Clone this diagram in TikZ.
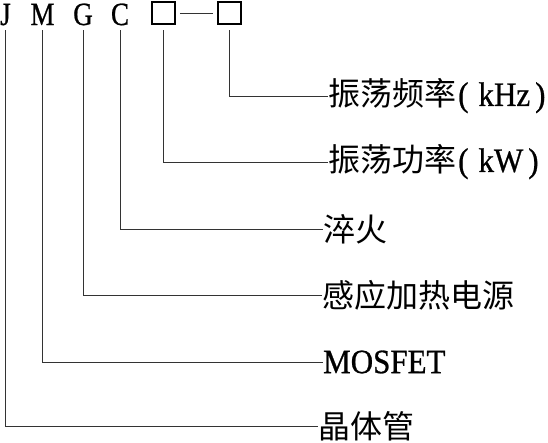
\documentclass[tikz,border=0pt]{standalone}
\usepackage{fontspec}
\setmainfont{Liberation Serif}[FakeBold=0.8]
\newfontfamily\cjk{Noto Sans CJK SC}
\newcommand\zh[1]{{\cjk\fontsize{32}{32}\selectfont #1}}
\newcommand\tall[1]{\scalebox{1}[1.1]{#1}}
\begin{document}
\begin{tikzpicture}[x=1pt,y=-1pt,
  letter/.style={anchor=base,inner sep=0pt,font=\fontsize{27}{27}\selectfont},
  codebox/.style={draw,line width=1.6pt,minimum width=23pt,minimum height=22pt,inner sep=0pt},
  lbl/.style={anchor=west,inner sep=0pt,font=\fontsize{31}{31}\selectfont},
  conn/.style={line width=1pt,draw=black!80}]
\useasboundingbox (0,0) rectangle (548,442);
% code letters
\node[letter] (J) at (5.5,25) {\scalebox{1}[1.2]{J}};
\node[letter] (M) at (42.5,25) {\scalebox{1}[1.2]{M}};
\node[letter] (G) at (83,25) {\scalebox{1}[1.2]{G}};
\node[letter] (C) at (120,25) {\scalebox{1}[1.2]{C}};
\node[codebox] (b1) at (163.5,13) {};
\node[codebox] (b2) at (229.5,13) {};
\draw[conn,shorten <=4pt,shorten >=4pt] (b1.east) -- (b2.west);
% labels
\node[lbl] (l6) at (328,96) {\zh{振荡频率}\hspace{2pt}\tall{(}\hspace{10pt}\tall{kHz}\hspace{5pt}\tall{)}};
\node[lbl] (l5) at (328,162) {\zh{振荡功率}\hspace{2pt}\tall{(}\hspace{10pt}\tall{kW}\hspace{5pt}\tall{)}};
\node[lbl] (l4) at (323,229) {\zh{淬火}};
\node[lbl] (l3) at (322,295) {\zh{感应加热电源}};
\node[lbl] (l2) at (323,362) {\tall{MOSFET}};
\node[lbl] (l1) at (318,426) {\zh{晶体管}};
% connectors
\coordinate (top) at (0,30);
\draw[conn] (b2 |- top) |- (l6.west);
\draw[conn] (b1 |- top) |- (l5.west);
\draw[conn] (C |- top) |- (l4.west);
\draw[conn] (G |- top) |- (l3.west);
\draw[conn] (M |- top) |- (l2.west);
\draw[conn] (J |- top) |- (l1.west);
\end{tikzpicture}
\end{document}
